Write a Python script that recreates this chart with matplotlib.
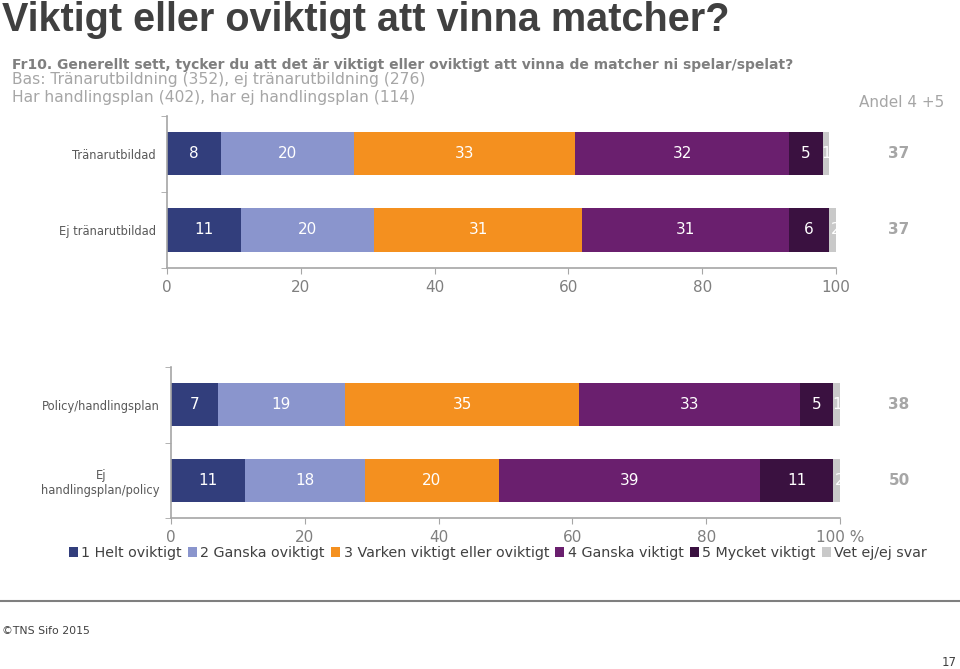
import numpy as np
import matplotlib.pyplot as plt
import matplotlib.transforms as mtransforms
from matplotlib.lines import Line2D
from matplotlib.patches import Patch

# ------------------------------------------------------
# Data
# ------------------------------------------------------
series_names = ["1 Helt oviktigt", "2 Ganska oviktigt",
                "3 Varken viktigt eller oviktigt", "4 Ganska viktigt",
                "5 Mycket viktigt", "Vet ej/ej svar"]
colors = ["#323E7C", "#8A95CD", "#F4901F", "#6A1F6E", "#3A1140", "#C9C9C9"]

top_cats = ["Tränarutbildad", "Ej tränarutbildad"]
top_vals = [[8, 20, 33, 32, 5, 1],
            [11, 20, 31, 31, 6, 2]]
top_andel = [37, 37]

bot_cats = ["Policy/handlingsplan", "Ej\nhandlingsplan/policy"]
bot_vals = [[7, 19, 35, 33, 5, 1],
            [11, 18, 20, 39, 11, 2]]
bot_andel = [38, 50]

xticks = [0, 20, 40, 60, 80, 100]

W, H = 960, 669
plt.rcParams["font.family"] = "DejaVu Sans"

fig = plt.figure(figsize=(W / 100, H / 100), dpi=100)


def fy(py):
    return 1 - py / H


def draw_panel(rect, cats, vals, andel, last_label):
    ax = fig.add_axes(rect)
    y = np.arange(len(cats))
    left = np.zeros(len(cats))
    for i in range(len(series_names)):
        w = np.array([v[i] for v in vals], dtype=float)
        ax.barh(y, w, left=left, height=0.57, color=colors[i])
        for yy, l, ww in zip(y, left, w):
            ax.text(l + ww / 2, yy, f"{int(ww)}", ha="center", va="center",
                    color="white", fontsize=11, clip_on=False)
        left += w
    ax.set_xlim(0, 100)
    ax.set_ylim(len(cats) - 0.5, -0.5)
    ax.set_xticks(xticks)
    ax.set_xticklabels([str(t) for t in xticks[:-1]] + [last_label])
    ax.set_yticks(y)
    ax.set_yticklabels(cats, multialignment="center")
    ax.set_yticks(np.arange(len(cats) + 1) - 0.5, minor=True)
    ax.tick_params(axis="y", which="major", length=0, pad=8,
                   labelsize=8.3, labelcolor="#595959")
    ax.tick_params(axis="y", which="minor", length=4, color="#A6A6A6")
    ax.tick_params(axis="x", length=4, color="#A6A6A6", pad=5,
                   labelsize=11, labelcolor="#7F7F7F")
    for s in ["top", "right"]:
        ax.spines[s].set_visible(False)
    for s in ["left", "bottom"]:
        ax.spines[s].set_color("#A6A6A6")
        ax.spines[s].set_linewidth(1.2)
    tr = mtransforms.blended_transform_factory(fig.transFigure, ax.transData)
    for yy, a in zip(y, andel):
        ax.text(899 / W, yy, str(a), transform=tr, ha="center", va="center",
                fontsize=11, fontweight="bold", color="#A6A6A6")
    return ax


draw_panel([167 / W, fy(268), 669 / W, (268 - 115.5) / H],
           top_cats, top_vals, top_andel, "100")
draw_panel([171 / W, fy(518), 669 / W, (518 - 367) / H],
           bot_cats, bot_vals, bot_andel, "100 %")

# Titles and notes
fig.text(2 / W, fy(31), "Viktigt eller oviktigt att vinna matcher?",
         family="Liberation Sans", fontweight="bold", fontsize=28.5,
         color="#404040", va="baseline")
fig.text(12 / W, fy(69),
         "Fr10. Generellt sett, tycker du att det är viktigt eller oviktigt att vinna de matcher ni spelar/spelat?",
         fontsize=10, fontweight="bold", color="#7F7F7F", va="baseline")
fig.text(12 / W, fy(84), "Bas: Tränarutbildning (352), ej tränarutbildning (276)",
         fontsize=11.2, color="#A6A6A6", va="baseline")
fig.text(12 / W, fy(102), "Har handlingsplan (402), har ej handlingsplan (114)",
         fontsize=11.2, color="#A6A6A6", va="baseline")
fig.text(944 / W, fy(107), "Andel 4 +5", fontsize=11, color="#A6A6A6",
         ha="right", va="baseline")

# Legend
handles = [Patch(facecolor=c, edgecolor="none") for c in colors]
fig.legend(handles, series_names, loc="center", bbox_to_anchor=(498 / W, fy(553)),
           ncol=6, frameon=False, fontsize=10.3, handlelength=0.6,
           handleheight=0.7, handletextpad=0.25, columnspacing=0.45,
           labelcolor="#404040", borderaxespad=0, borderpad=0)

# Footer
fig.add_artist(Line2D([0, 1], [fy(601), fy(601)], transform=fig.transFigure,
                      color="#7F7F7F", lw=1.5))
fig.text(2 / W, fy(631), "©TNS Sifo 2015", fontsize=7.8, color="#404040",
         va="center")
fig.text(957 / W, fy(663), "17", fontsize=8.5, color="#404040",
         ha="right", va="center")

fig.savefig("out.png", dpi=100)
